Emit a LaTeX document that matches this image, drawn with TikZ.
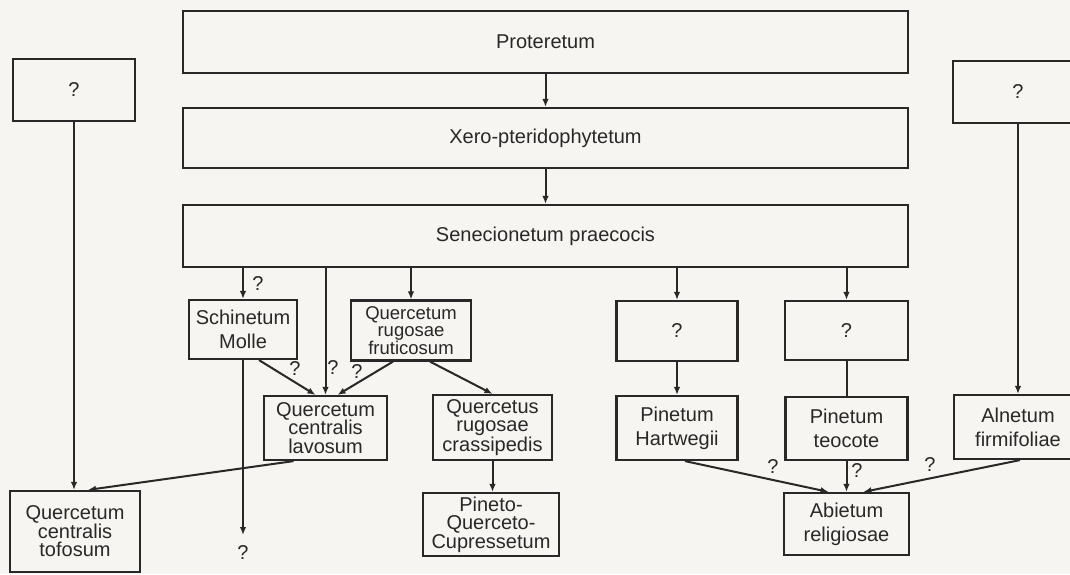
\documentclass[tikz,border=0pt]{standalone}
\usepackage{fontspec}
\setmainfont{Liberation Sans}
\usetikzlibrary{arrows.meta}
\definecolor{bgcol}{RGB}{246,245,241}
\definecolor{inkcol}{RGB}{40,40,40}
\tikzset{
  box/.style={draw=inkcol, line width=2.2pt, rectangle, align=center, inner sep=0pt, text=inkcol,
    font={\fontsize{20}{18.5}\selectfont}},
  twoline/.style={font={\fontsize{20}{24}\selectfont}},
  tightline/.style={font={\fontsize{18.5}{17.5}\selectfont}},
  conn/.style={draw=inkcol, line width=2pt},
  arr/.style={conn, -{Latex[length=8pt,width=6.5pt]}},
  qlabel/.style={inner sep=0pt, text=inkcol, font={\fontsize{20}{20}\selectfont}}
}
\begin{document}
\begin{tikzpicture}[x=1pt,y=-1pt]
\fill[bgcol] (0,0) rectangle (1070,574);
\useasboundingbox (0,0) rectangle (1070,574);
\clip (0,0) rectangle (1070,574);

% main column
\node[box,minimum width=725pt,minimum height=62pt] (prot) at (545.5,42) {Proteretum};
\node[box,minimum width=725pt,minimum height=60pt] (xero) at (545.5,138) {Xero-pteridophytetum};
\node[box,minimum width=725pt,minimum height=62pt] (sene) at (545.5,236) {Senecionetum praecocis};

% side unknowns
\node[box,minimum width=122pt,minimum height=62pt] (ql) at (74,90) {?};
\node[box,minimum width=130pt,minimum height=62pt] (qr) at (1018,92) {?};

% left branch
\node[box,twoline,minimum width=108pt,minimum height=59pt] (schi) at (243,329.5) {Schinetum\\Molle};
\node[box,tightline,minimum width=120pt,minimum height=60pt] (fru) at (411,330.5) {Quercetum\\rugosae\\fruticosum};
\node[box,minimum width=123pt,minimum height=64pt] (lav) at (325.5,428) {Quercetum\\centralis\\lavosum};
\node[box,minimum width=119pt,minimum height=65pt] (cra) at (492.5,427.5) {Quercetus\\rugosae\\crassipedis};
\node[box,minimum width=136pt,minimum height=63pt] (pin) at (491,524.5) {Pineto-\\Querceto-\\Cupressetum};
\node[box,minimum width=130pt,minimum height=81pt] (tof) at (75,531.5) {Quercetum\\centralis\\tofosum};

% right branch
\node[box,minimum width=121pt,minimum height=60pt] (hq1) at (677,331) {?};
\node[box,minimum width=123pt,minimum height=59pt] (hq2) at (846.5,330.5) {?};
\node[box,twoline,minimum width=121pt,minimum height=64pt] (har) at (677,428) {Pinetum\\Hartwegii};
\node[box,twoline,minimum width=122pt,minimum height=63pt] (teo) at (846.5,428.5) {Pinetum\\teocote};
\node[box,twoline,minimum width=128pt,minimum height=64pt] (aln) at (1018,427) {Alnetum\\firmifoliae};
\node[box,twoline,minimum width=125pt,minimum height=62pt] (abi) at (846.5,524) {Abietum\\religiosae};

% free end
\coordinate (schiend) at (243,535);

% connectors
\draw[arr] (prot) -- (xero);
\draw[arr] (xero) -- (sene);
\draw[arr] (sene.south -| schi.north) -- (schi.north);
\draw[arr] (sene.south -| lav.north) -- (lav.north);
\draw[arr] (sene.south -| fru.north) -- (fru.north);
\draw[arr] (sene.south -| hq1.north) -- (hq1.north);
\draw[arr] (sene.south -| hq2.north) -- (hq2.north);
\draw[arr] (ql.south) -- (ql.south |- tof.north);
\draw[arr] (qr.south) -- (qr.south |- aln.north);
\draw[arr] ([xshift=16pt]schi.south) -- ([xshift=-10pt]lav.north);
\draw[arr] ([xshift=-18pt]fru.south) -- ([xshift=12pt]lav.north);
\draw[arr] ([xshift=19pt]fru.south) -- (cra.north);
\draw[arr] (cra.south) -- (cra.south |- pin.north);
\draw[arr] ([xshift=-32pt]lav.south) -- ([xshift=13pt]tof.north);
\draw[arr] (schi.south) -- (schiend);
\draw[arr] (hq1.south) -- (har.north);
\draw[conn] (hq2.south) -- (teo.north);
\draw[arr] ([xshift=8pt]har.south) -- ([xshift=-18pt]abi.north);
\draw[arr] (teo.south) -- (abi.north);
\draw[arr] ([xshift=2pt]aln.south) -- ([xshift=17pt]abi.north);

% question-mark labels
\node[qlabel] (l1) at (258,284) {?};
\node[qlabel] (l2) at (333,368) {?};
\node[qlabel] (l3) at (295,369) {?};
\node[qlabel] (l4) at (357,372) {?};
\node[qlabel] (l5) at (243,553) {?};
\node[qlabel] (l6) at (773,467) {?};
\node[qlabel] (l7) at (857,471) {?};
\node[qlabel] (l8) at (930,465) {?};
\end{tikzpicture}
\end{document}
